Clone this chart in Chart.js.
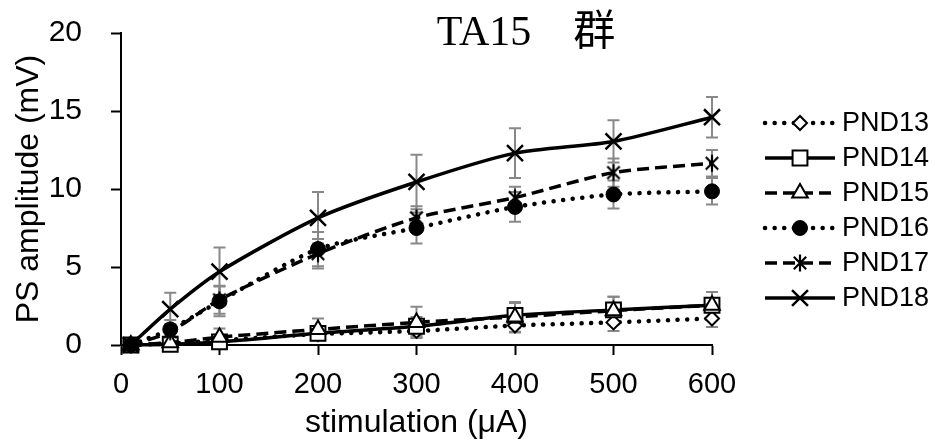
<!doctype html>
<html>
<head>
  <meta charset="utf-8" />
  <title>TA15 群</title>
  <script src="https://cdn.jsdelivr.net/npm/chart.js@4/dist/chart.umd.min.js"></script>
  <style>
    body { margin: 0; background: #fff; }
    #wrap { width: 935px; height: 443px; position: relative; }
  </style>
</head>
<body>
  <div id="wrap"><canvas id="psChart"></canvas></div>

<script>
  // 刺激強度 (μA)
  var stimulation = [10, 50, 100, 200, 300, 400, 500, 600];
  var seriesNames = ['PND13', 'PND14', 'PND15', 'PND16', 'PND17', 'PND18'];
  var yTicks = [0, 5, 10, 15, 20];
  var xTicks = [0, 100, 200, 300, 400, 500, 600];

  // 平均値
  var pnd13 = [0, 0.1, 0.3, 0.7, 0.9, 1.25, 1.45, 1.7];
  var pnd14 = [0, 0.05, 0.2, 0.75, 1.2, 1.9, 2.25, 2.55];
  var pnd15 = [0, 0.15, 0.5, 1.0, 1.45, 1.8, 2.2, 2.55];
  var pnd16 = [0, 1.0, 2.8, 6.15, 7.5, 8.85, 9.65, 9.85];
  var pnd17 = [0, 0.85, 2.9, 5.85, 8.15, 9.45, 11.05, 11.65];
  var pnd18 = [0, 2.3, 4.7, 8.15, 10.45, 12.3, 13.05, 14.6];

  // 誤差 (SE)
  var pnd13Err = [0, 0.1, 0.25, 0.35, 0.4, 0.45, 0.55, 0.55];
  var pnd14Err = [0, 0.1, 0.25, 0.4, 0.6, 0.8, 0.85, 0.85];
  var pnd15Err = [0, 0.2, 0.55, 0.7, 1.0, 0.95, 0.9, 0.85];
  var pnd16Err = [0, 0.6, 0.95, 1.1, 1.0, 0.95, 0.9, 0.85];
  var pnd17Err = [0, 0.5, 0.9, 0.95, 0.75, 0.7, 0.9, 0.85];
  var pnd18Err = [0, 1.05, 1.55, 1.65, 1.75, 1.6, 1.35, 1.3];

  var allValues = [pnd13, pnd14, pnd15, pnd16, pnd17, pnd18];
  var allErrors = [pnd13Err, pnd14Err, pnd15Err, pnd16Err, pnd17Err, pnd18Err];

  Chart.defaults.color = '#000';
  Chart.defaults.font.family = '"Liberation Sans", Arial, sans-serif';

  function makeAsterisk() { // Excelの * マーカー
    var c = document.createElement('canvas');
    c.width = 20; c.height = 20;
    var g = c.getContext('2d');
    g.strokeStyle = '#000';
    g.lineWidth = 2.2;
    g.beginPath();
    g.moveTo(10, 1.5); g.lineTo(10, 18.5);
    g.moveTo(3.8, 3.8); g.lineTo(16.2, 16.2);
    g.moveTo(16.2, 3.8); g.lineTo(3.8, 16.2);
    g.stroke();
    return c;
  }

  var dotted = [0.1, 9.5];
  var dashed = [12, 6];
  var styles = [
    { dash: dotted, cap: 'round', lw: 4.5, point: 'rectRot', radius: 7, fill: '#fff', bw: 2 },
    { dash: [], cap: 'butt', lw: 3.5, point: 'rect', radius: 10.5, fill: '#fff', bw: 2 },
    { dash: dashed, cap: 'butt', lw: 3.5, point: 'triangle', radius: 9, fill: '#fff', bw: 2 },
    { dash: dotted, cap: 'round', lw: 4.5, point: 'circle', radius: 7.5, fill: '#000', bw: 1 },
    { dash: dashed, cap: 'butt', lw: 3.5, point: makeAsterisk(), radius: 9, fill: '#000', bw: 2 },
    { dash: [], cap: 'butt', lw: 3.5, point: 'crossRot', radius: 11.3, fill: '#000', bw: 2.5 }
  ];

  var datasets = seriesNames.map(function (name, i) {
    var s = styles[i];
    return {
      label: name,
      data: stimulation.map(function (x, j) { return { x: x, y: allValues[i][j] }; }),
      errors: allErrors[i],
      borderColor: '#000',
      backgroundColor: s.fill,
      borderWidth: s.lw,
      borderDash: s.dash,
      borderCapStyle: s.cap,
      tension: 0.25,
      pointStyle: s.point,
      pointRadius: s.radius,
      pointBorderWidth: s.bw,
      pointBorderColor: '#000',
      pointBackgroundColor: s.fill,
      order: seriesNames.length - i,
      clip: false
    };
  });

  var errorBars = { // 灰色の誤差線
    id: 'errorBars',
    beforeDatasetsDraw: function (chart) {
      var ctx = chart.ctx;
      var xs = chart.scales.x, ys = chart.scales.y;
      ctx.save();
      ctx.strokeStyle = '#888';
      ctx.lineWidth = 2;
      chart.data.datasets.forEach(function (ds) {
        ds.data.forEach(function (p, j) {
          var e = ds.errors[j];
          if (!e) return;
          var px = xs.getPixelForValue(p.x);
          var top = ys.getPixelForValue(p.y + e);
          var bot = ys.getPixelForValue(p.y - e);
          ctx.beginPath();
          ctx.moveTo(px, top); ctx.lineTo(px, bot);
          ctx.moveTo(px - 6, top); ctx.lineTo(px + 6, top);
          ctx.moveTo(px - 6, bot); ctx.lineTo(px + 6, bot);
          ctx.stroke();
        });
      });
      ctx.restore();
    }
  };

  var sideLegend = { // 線+マーカーの凡例
    id: 'sideLegend',
    afterDraw: function (chart) {
      var ctx = chart.ctx;
      var x0 = chart.chartArea.right + 53;
      var y0 = 123;
      chart.data.datasets.forEach(function (ds, i) {
        var y = y0 + i * 35;
        ctx.save();
        ctx.strokeStyle = '#000';
        ctx.lineWidth = ds.borderWidth;
        ctx.lineCap = ds.borderCapStyle;
        ctx.setLineDash(ds.borderDash);
        ctx.beginPath();
        ctx.moveTo(x0, y); ctx.lineTo(x0 + 70, y);
        ctx.stroke();
        ctx.setLineDash([]);
        ctx.lineCap = 'butt';
        ctx.fillStyle = ds.pointBackgroundColor;
        ctx.strokeStyle = '#000';
        ctx.lineWidth = ds.pointBorderWidth;
        Chart.helpers.drawPoint(ctx, {
          pointStyle: ds.pointStyle, radius: ds.pointRadius,
          borderWidth: ds.pointBorderWidth, rotation: 0
        }, x0 + 35, y);
        ctx.fillStyle = '#000';
        ctx.font = '27px "Liberation Sans", Arial, sans-serif';
        ctx.textBaseline = 'middle';
        ctx.textAlign = 'left';
        ctx.fillText(ds.label, x0 + 77, y + 1);
        ctx.restore();
      });
    }
  };

  var topTitle = {
    id: 'topTitle',
    afterDraw: function (chart) {
      var ctx = chart.ctx;
      ctx.save();
      ctx.fillStyle = '#000';
      ctx.font = '42px "Liberation Serif", "Noto Sans CJK JP", serif';
      ctx.textAlign = 'center';
      ctx.textBaseline = 'alphabetic';
      ctx.fillText('TA15\u3000群', 526, 45);
      ctx.restore();
    }
  };

  var psChart = new Chart(document.getElementById('psChart'), {
    type: 'line',
    data: { datasets: datasets },
    plugins: [errorBars, sideLegend, topTitle],
    options: {
      responsive: true,
      maintainAspectRatio: false,
      animation: false,
      layout: { padding: { top: 33, right: 223, bottom: 0, left: 0 } },
      plugins: {
        legend: { display: false },
        tooltip: { enabled: false }
      },
      scales: {
        x: {
          type: 'linear',
          min: 0, max: 600,
          afterFit: function (s) { s.height = 98; },
          afterBuildTicks: function (s) { s.ticks = xTicks.map(function (v) { return { value: v }; }); },
          border: { display: true, color: '#000', width: 2 },
          grid: { drawOnChartArea: false, drawTicks: true, tickLength: 10, tickColor: '#000', tickWidth: 2 },
          ticks: { font: { size: 29 }, padding: 13, maxRotation: 0 },
          title: { display: true, text: 'stimulation (μA)', font: { size: 32 }, padding: { top: 0, bottom: 1 } }
        },
        y: {
          min: 0, max: 20,
          afterFit: function (s) { s.width = 121; s.paddingTop = 15; s.paddingBottom = 15; },
          afterBuildTicks: function (s) { s.ticks = yTicks.map(function (v) { return { value: v }; }); },
          border: { display: true, color: '#000', width: 2 },
          grid: { drawOnChartArea: false, drawTicks: true, tickLength: 10, tickColor: '#000', tickWidth: 2 },
          ticks: { font: { size: 30 }, padding: 29 },
          title: { display: true, text: 'PS amplitude (mV)', font: { size: 32 }, padding: { top: 10, bottom: 0 } }
        }
      }
    }
  });
</script>
</body>
</html>
